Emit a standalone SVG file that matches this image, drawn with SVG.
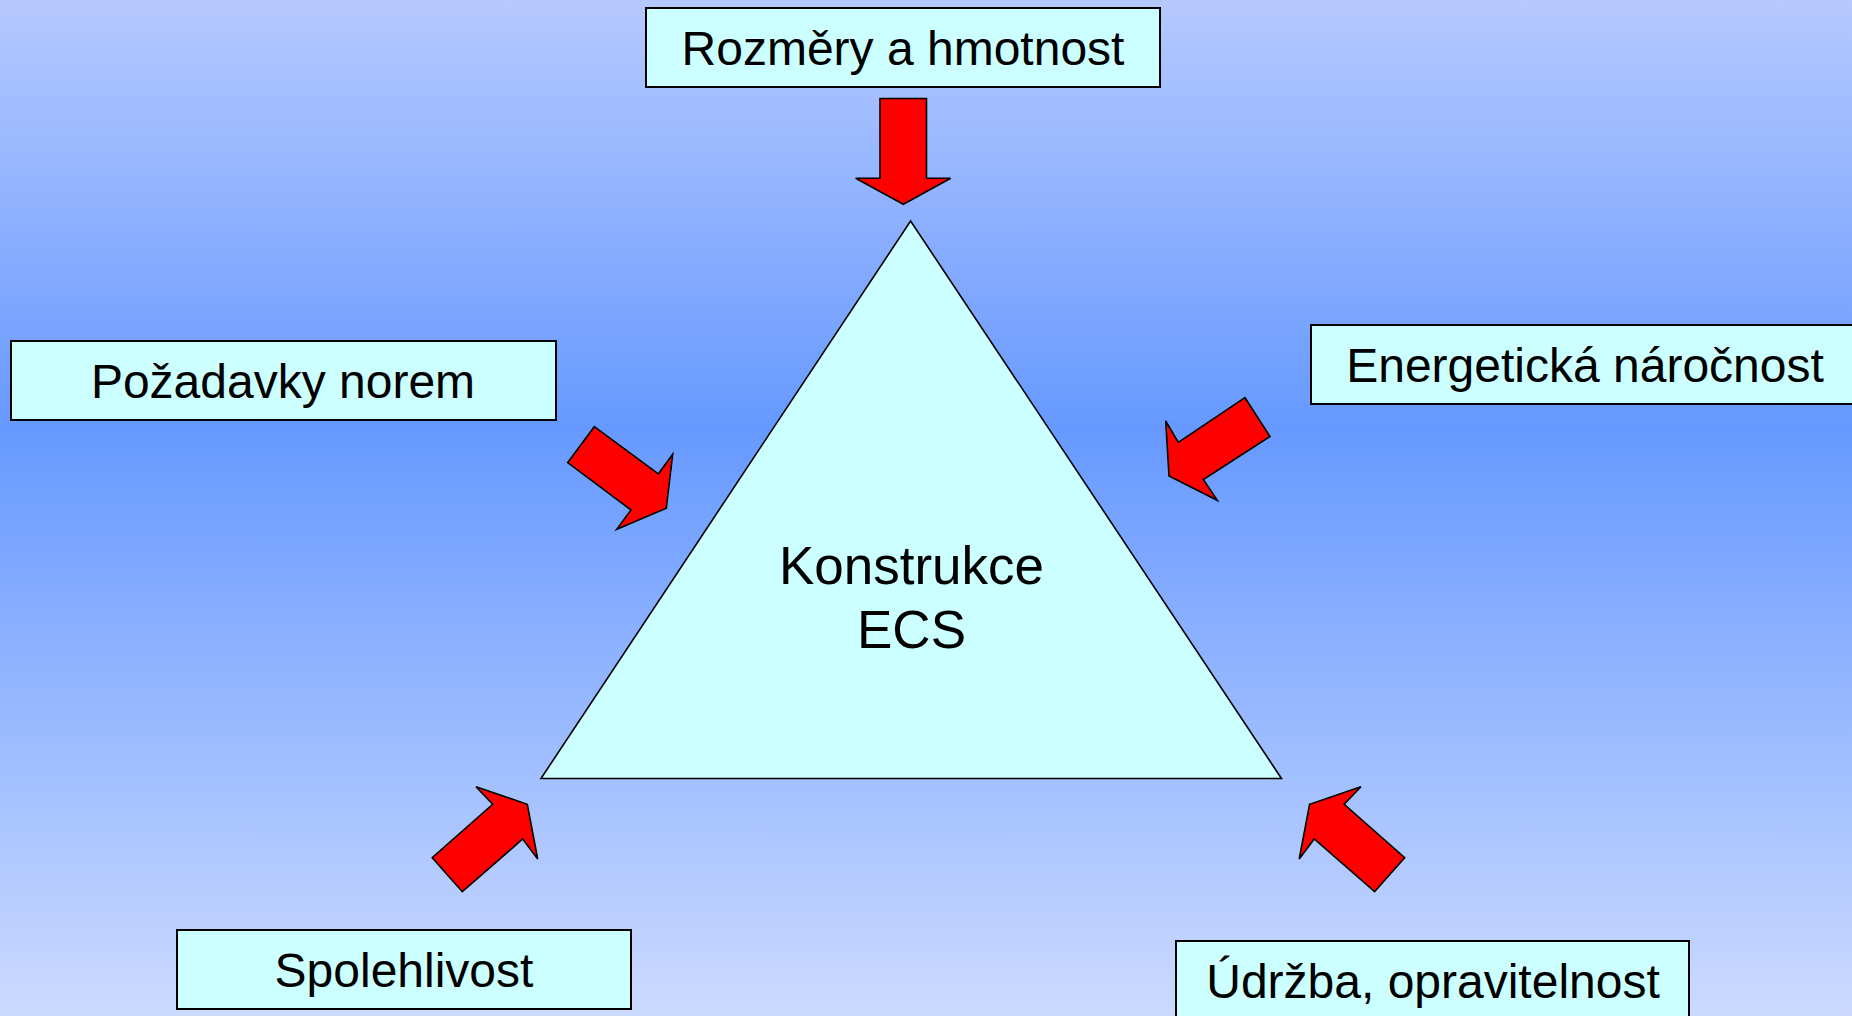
<svg xmlns="http://www.w3.org/2000/svg" width="1852" height="1016" viewBox="0 0 1852 1016">
  <defs>
    <linearGradient id="bg" x1="0" y1="0" x2="0" y2="1">
      <stop offset="0" stop-color="#b6c9fe"/>
      <stop offset="0.42" stop-color="#6699ff"/>
      <stop offset="1" stop-color="#ccdaff"/>
    </linearGradient>
  </defs>
  <style>
    .box { fill: #ccffff; stroke: #000; stroke-width: 2; }
    .tri { fill: #ccffff; stroke: #000; stroke-width: 1.6; stroke-linejoin: miter; }
    .arr { fill: #ff0000; stroke: #000; stroke-width: 1.6; stroke-linejoin: miter; }
    .lbl { font-family: "Liberation Sans", Arial, sans-serif; font-size: 48px; fill: #000; text-anchor: middle; }
    .ctr { font-family: "Liberation Sans", Arial, sans-serif; font-size: 53px; fill: #000; text-anchor: middle; }
  </style>
  <rect x="0" y="0" width="1852" height="1016" fill="url(#bg)"/>

  <g id="konstrukce-ecs">
    <polygon class="tri" points="910.6,221 541,778.5 1281.5,778.5"/>
    <text class="ctr" x="911.5" y="583.5">Konstrukce</text>
    <text class="ctr" x="911.5" y="648">ECS</text>
  </g>

  <g id="rozmery">
    <rect class="box" x="646" y="8" width="514" height="79"/>
    <text class="lbl" x="903" y="64.5">Rozměry a hmotnost</text>
  </g>

  <g id="pozadavky">
    <rect class="box" x="11" y="341" width="545" height="79"/>
    <text class="lbl" x="283" y="397.5">Požadavky norem</text>
  </g>

  <g id="energeticka">
    <rect class="box" x="1311" y="325" width="548" height="79"/>
    <text class="lbl" x="1585" y="381.5">Energetická náročnost</text>
  </g>

  <g id="spolehlivost">
    <rect class="box" x="177" y="930" width="454" height="79"/>
    <text class="lbl" x="404" y="986.5">Spolehlivost</text>
  </g>

  <g id="udrzba">
    <rect class="box" x="1176" y="941" width="513" height="80"/>
    <text class="lbl" x="1433" y="998">Údržba, opravitelnost</text>
  </g>

  <g id="connectors">
    <polygon class="arr" points="880,98.5 926.5,98.5 926.5,178.3 950.7,178.3 903.3,204.3 855.7,178.3 880,178.3"/>
    <polygon class="arr" points="594.3,426.7 658.3,474 672.7,454.3 666.3,508.3 616.7,529.3 631,510 567.7,462.7"/>
    <polygon class="arr" points="1245,397.7 1270,436.5 1203.3,479.5 1217.3,500.3 1169,476 1165.7,421 1178.3,442.3"/>
    <polygon class="arr" points="432.3,857.7 492.7,804.3 476,786.7 527.3,804.3 537.7,859 522.7,839 462.3,891.7"/>
    <polygon class="arr" points="1404.6,857.7 1344.2,804.3 1360.9,786.7 1309.6,804.3 1299.2,859 1314.2,839 1374.6,891.7"/>
  </g>
</svg>
